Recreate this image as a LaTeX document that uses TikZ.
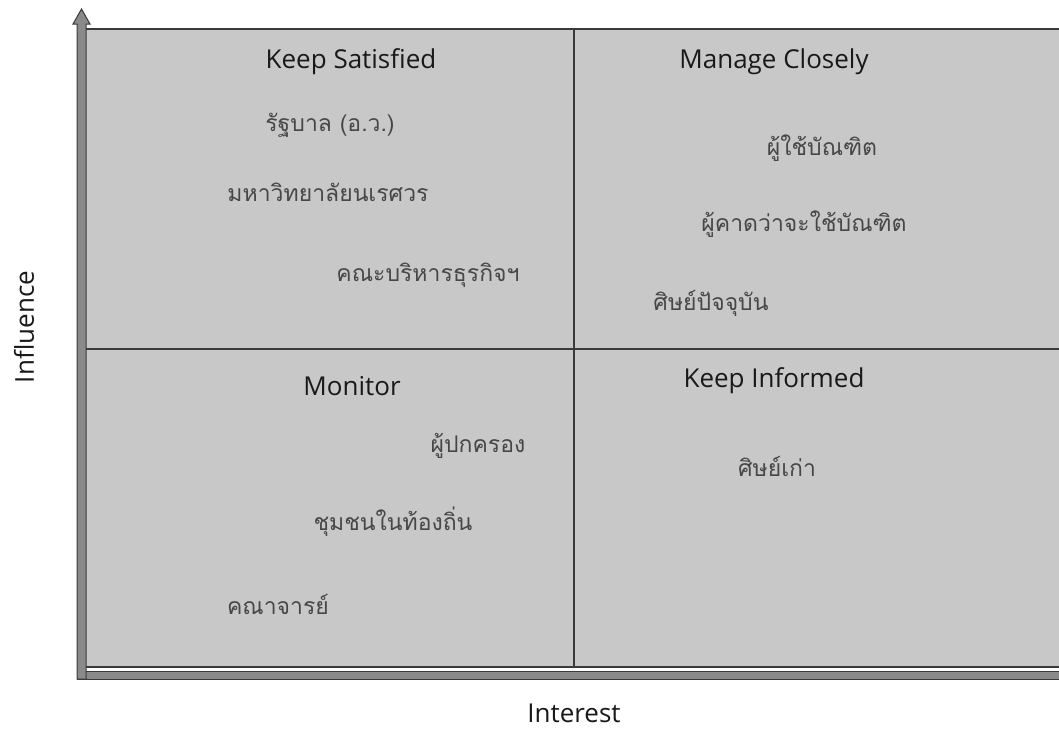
\documentclass[tikz,border=0pt]{standalone}
\usepackage{fontspec}
\setmainfont{Open Sans}
\newfontfamily\thaifont[Script=Thai]{Loma}
\usepackage{tikz}

\definecolor{boxgray}{HTML}{C8C8C8}
\definecolor{axisgray}{HTML}{8A8A8A}
\definecolor{darkline}{HTML}{3A3A3A}
\definecolor{txtgray}{HTML}{474747}

\begin{document}
\begin{tikzpicture}[x=1pt, y=-1pt,
    title/.style = {text=black!90, font=\fontsize{26}{30}\selectfont},
    item/.style = {text=txtgray, font=\thaifont\fontsize{23}{27}\selectfont},
    axislabel/.style = {text=black!90, font=\fontsize{26}{30}\selectfont}]
    \useasboundingbox (0,0) rectangle (1059,729);
    % quadrants
    \fill[boxgray] (86,29) rectangle (1059,668);
    \draw[darkline, line width=2.5pt] (86,29) -- (1059,29);
    \draw[darkline, line width=2pt] (574,29) -- (574,668);
    \draw[darkline, line width=2.5pt] (86,349) -- (1059,349);
    \draw[darkline, line width=2pt] (86,667) -- (1059,667);
    % axes
    \filldraw[fill=axisgray, draw=darkline, line width=1pt] (77,671) rectangle (1059,679);
    \filldraw[fill=axisgray, draw=darkline, line width=1pt]
        (77,679) -- (77,24) -- (73,24) -- (81.5,9) -- (90,24) -- (86,24) -- (86,679) -- cycle;
    % titles
    \node[title] (ks) at (351,62) {Keep Satisfied};
    \node[title] (mc) at (774,62) {Manage Closely};
    \node[title] (mon) at (352,386) {Monitor};
    \node[title] (ki) at (774,381) {Keep Informed};
    % stakeholders
    \node[item] (gov) at (330,125) {รัฐบาล (อ.ว.)};
    \node[item] (nu) at (328,192) {มหาวิทยาลัยนเรศวร};
    \node[item] (fac) at (428,275) {คณะบริหารธุรกิจฯ};
    \node[item] (user) at (822,148) {ผู้ใช้บัณฑิต};
    \node[item] (puser) at (804,224) {ผู้คาดว่าจะใช้บัณฑิต};
    \node[item] (stu) at (711,303) {ศิษย์ปัจจุบัน};
    \node[item] (par) at (478,446) {ผู้ปกครอง};
    \node[item] (com) at (393,522) {ชุมชนในท้องถิ่น};
    \node[item] (staff) at (278,604) {คณาจารย์};
    \node[item] (alum) at (777,466) {ศิษย์เก่า};
    % axis labels
    \node[axislabel, rotate=90] (infl) at (24,327) {Influence};
    \node[axislabel] (intr) at (574,713) {Interest};
\end{tikzpicture}
\end{document}
